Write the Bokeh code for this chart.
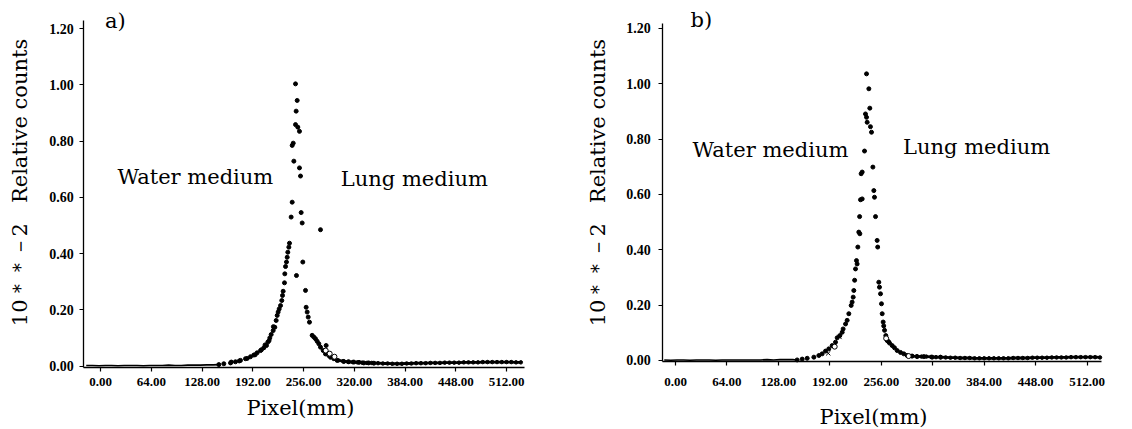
import math
from bokeh.plotting import figure
from bokeh.layouts import row
from bokeh.models import FixedTicker, PrintfTickFormatter, Label
from bokeh.embed import file_html
from bokeh.resources import INLINE

x_ticks = [0, 64, 128, 192, 256, 320, 384, 448, 512]
y_ticks = [0.0, 0.2, 0.4, 0.6, 0.8, 1.0, 1.2]
x_title = "Pixel(mm)"
y_title = "10＊＊－2\u00a0\u00a0\u00a0Relative counts"

# ---------------- panel a ----------------
a_base_x = [-18, -10, -2, 6, 14, 22, 30, 38, 46, 54, 62, 70, 78, 86, 94, 102, 110, 118, 126, 134, 142, 149]
a_base_y = [0.002, 0.002, 0.001, 0.002, 0.002, 0.001, 0.002, 0.002, 0.002, 0.001, 0.002, 0.002, 0.002,
            0.003, 0.002, 0.002, 0.003, 0.003, 0.003, 0.004, 0.004, 0.005]
a_left_x = [149.2, 155.5, 163.9, 165.0, 170.2, 175.0, 176.5, 182.8, 185.0, 189.1, 193.3, 195.0, 197.5,
            201.8, 203.0, 206.0, 207.5, 209.3, 211.0, 212.5, 213.5, 215.2, 217.7, 218.0, 219.8, 221.5,
            222.8, 224.0, 225.3, 227.0, 228.6, 229.5, 230.3, 232.0, 232.4, 233.3, 234.5, 235.4, 236.2,
            237.5, 238.3]
a_left_y = [0.005, 0.008, 0.011, 0.014, 0.015, 0.018, 0.020, 0.026, 0.027, 0.033, 0.039, 0.040, 0.047,
            0.055, 0.058, 0.065, 0.075, 0.073, 0.085, 0.090, 0.100, 0.112, 0.126, 0.140, 0.138, 0.162,
            0.180, 0.192, 0.203, 0.215, 0.233, 0.251, 0.266, 0.296, 0.328, 0.354, 0.370, 0.387, 0.405,
            0.423, 0.437]
a_top_x = [245.9, 248.0, 246.7, 245.9, 248.8, 250.9, 243.0, 241.7, 243.8, 250.9, 252.2, 241.7, 253.0,
           240.4, 254.3, 277.4, 255.1, 247.1]
a_top_y = [1.004, 0.945, 0.907, 0.859, 0.850, 0.835, 0.793, 0.785, 0.729, 0.705, 0.676, 0.583, 0.546,
           0.530, 0.509, 0.485, 0.370, 0.322]
a_right_x = [258.5, 259.3, 260.6, 261.9, 263.5, 266.9, 269.0, 271.1, 273.2, 275.3, 277.4, 284.5, 280.8,
             283.7, 287.9, 290.0, 294.2, 298.4, 306.8, 313.0, 319.4, 326.0, 332.0, 338.0, 344.7]
a_right_y = [0.269, 0.209, 0.192, 0.174, 0.156, 0.109, 0.103, 0.097, 0.088, 0.079, 0.067, 0.073, 0.055,
             0.043, 0.037, 0.031, 0.026, 0.020, 0.016, 0.015, 0.014, 0.013, 0.011, 0.011, 0.010]
a_tail_x = [300, 306, 312, 318, 324, 330, 336, 342, 350, 356, 362, 368, 374, 380, 386, 392, 398, 404,
            410, 416, 422, 428, 434, 440, 446, 452, 458, 464, 470, 476, 482, 488, 494, 500, 506, 512,
            518, 524, 530]
a_tail_y = [0.020, 0.017, 0.015, 0.014, 0.013, 0.012, 0.011, 0.011, 0.010, 0.009, 0.009, 0.008, 0.008,
            0.008, 0.009, 0.009, 0.010, 0.010, 0.010, 0.011, 0.011, 0.011, 0.012, 0.012, 0.012, 0.012,
            0.013, 0.013, 0.013, 0.013, 0.014, 0.014, 0.014, 0.014, 0.014, 0.014, 0.014, 0.013, 0.013]
a_open_x = [284.0, 289.0, 295.0]
a_open_y = [0.055, 0.044, 0.033]

# ---------------- panel b ----------------
b_base_x = [-14, -6, 2, 10, 18, 26, 34, 42, 50, 58, 66, 74, 82, 90, 98, 106, 114, 122, 130, 138, 146, 151]
b_base_y = [0.002, 0.001, 0.002, 0.002, 0.001, 0.002, 0.002, 0.002, 0.001, 0.002, 0.002, 0.002, 0.002,
            0.002, 0.002, 0.002, 0.003, 0.002, 0.003, 0.003, 0.003, 0.002]
b_left_x = [151.3, 157.6, 163.8, 172.1, 178.3, 182.4, 186.6, 190.7, 194.9, 199.0, 201.1, 204.4, 207.3,
            208.5, 211.5, 213.5, 215.6, 218.5, 219.7, 221.0, 221.8, 222.8, 223.9, 225.1, 225.9, 226.8,
            228.0, 229.3, 229.0, 230.1, 230.9, 232.2, 232.2, 235.1]
b_left_y = [0.002, 0.005, 0.008, 0.012, 0.018, 0.024, 0.034, 0.042, 0.054, 0.066, 0.082, 0.090, 0.102,
            0.114, 0.132, 0.145, 0.169, 0.199, 0.211, 0.229, 0.253, 0.290, 0.331, 0.361, 0.349, 0.410,
            0.464, 0.458, 0.520, 0.581, 0.675, 0.584, 0.681, 0.757]
b_top_x = [237.6, 240.5, 241.7, 236.3, 237.6, 238.4, 242.5, 243.8, 245.5, 246.7, 247.5, 248.8, 250.8,
           251.5, 252.9, 253.7, 255.0]
b_top_y = [1.036, 0.982, 0.912, 0.891, 0.879, 0.861, 0.845, 0.825, 0.699, 0.614, 0.590, 0.520, 0.434,
           0.410, 0.283, 0.265, 0.241]
b_right_x = [256.2, 257.1, 258.3, 259.0, 260.0, 261.6, 263.3, 265.0, 266.2, 269.5, 272.4, 275.7, 279.9,
             284.0, 288.2, 294.4, 300.6, 308.9, 319.2, 329.6]
b_right_y = [0.205, 0.169, 0.139, 0.125, 0.109, 0.090, 0.072, 0.068, 0.063, 0.054, 0.046, 0.036, 0.029,
             0.024, 0.018, 0.016, 0.014, 0.014, 0.012, 0.012]
b_tail_x = [288, 294, 300, 306, 312, 318, 324, 330, 336, 342, 348, 354, 360, 366, 372, 378, 384, 390,
            396, 402, 408, 414, 420, 426, 432, 438, 444, 450, 456, 462, 468, 474, 480, 486, 492, 498,
            504, 510, 516, 522, 528]
b_tail_y = [0.018, 0.016, 0.015, 0.014, 0.014, 0.013, 0.012, 0.012, 0.011, 0.010, 0.010, 0.009, 0.009,
            0.009, 0.008, 0.008, 0.008, 0.008, 0.008, 0.008, 0.008, 0.008, 0.009, 0.009, 0.009, 0.009,
            0.010, 0.010, 0.010, 0.010, 0.011, 0.011, 0.011, 0.011, 0.012, 0.012, 0.012, 0.012, 0.012,
            0.012, 0.011]
b_open_x = [198.0, 262.0, 290.0]
b_open_y = [0.050, 0.080, 0.016]
b_cross_x = [190.0, 204.0]
b_cross_y = [0.026, 0.085]

SERIF = "DejaVu Serif"
TICKF = "Liberation Serif"
H = 428


def make_panel(x_range, y_range, x_bounds, y_bounds, width, tick_std_y, tick_std_x):
    p = figure(width=width, height=H, x_range=x_range, y_range=y_range,
               output_backend="svg", toolbar_location=None, tools="")
    p.min_border = 0
    p.min_border_left = 0
    p.min_border_right = 0
    p.min_border_top = 0
    p.min_border_bottom = 0
    p.outline_line_color = None
    p.xgrid.visible = False
    p.ygrid.visible = False
    p.background_fill_color = "white"
    p.border_fill_color = "white"
    for ax in (p.xaxis[0], p.yaxis[0]):
        ax.axis_line_color = "black"
        ax.axis_line_width = 1.3
        ax.major_tick_line_color = "black"
        ax.major_tick_line_width = 1.2
        ax.major_tick_out = 4
        ax.major_tick_in = 0
        ax.minor_tick_line_color = None
        ax.major_label_text_font = TICKF
        ax.major_label_text_font_style = "bold"
        ax.major_label_text_color = "black"
        ax.axis_label = None
    p.xaxis[0].ticker = FixedTicker(ticks=x_ticks)
    p.yaxis[0].ticker = FixedTicker(ticks=y_ticks)
    p.xaxis[0].formatter = PrintfTickFormatter(format="%.2f")
    p.yaxis[0].formatter = PrintfTickFormatter(format="%.2f")
    p.xaxis[0].major_label_text_font_size = "13px"
    p.yaxis[0].major_label_text_font_size = "14px"
    p.xaxis[0].major_label_standoff = tick_std_x
    p.yaxis[0].major_label_standoff = tick_std_y
    p.xaxis[0].fixed_location = y_bounds[0]
    p.yaxis[0].fixed_location = x_bounds[0]
    p.xaxis[0].bounds = x_bounds
    p.yaxis[0].bounds = y_bounds
    return p


def add_dots(p, xs, ys):
    p.scatter(xs, ys, marker="circle", size=4, color="black")


def add_base(p, xs, ys, w):
    p.line(xs, ys, line_width=w, color="black")


def add_text(p, x, y, t, align, angle=0.0):
    p.add_layout(Label(x=x, y=y, text=t, text_font=SERIF, text_font_size="21px", angle=angle,
                       text_align=align, text_baseline="middle", text_color="black"))


# panel a  (page px = 100 + 0.793*x ; py = 365.5 - 281*y)
pa = make_panel((-126.1, 587.6), (-0.2224, 1.3007), (-21, 535), (-0.0053, 1.23), 566, 6, 7)
add_base(pa, a_base_x, a_base_y, 1.6)
add_base(pa, a_tail_x, a_tail_y, 2.8)
for xs, ys in ((a_left_x, a_left_y), (a_top_x, a_top_y), (a_right_x, a_right_y)):
    add_dots(pa, xs, ys)
pa.scatter(a_tail_x, a_tail_y, marker="circle", size=3.5, color="black")
pa.scatter(a_open_x, a_open_y, marker="circle", size=5, fill_color="white", line_color="black", line_width=1)
add_text(pa, 217.8, 0.671, "Water medium", "right")
add_text(pa, 303.0, 0.667, "Lung medium", "left")
add_text(pa, 5.7, 1.226, "a)", "left")
add_text(pa, 252.2, -0.148, x_title, "center")
add_text(pa, -100.9, 0.653, y_title, "center", math.pi / 2)

# panel b  (local px = 109 + 0.804*x ; py = 360 - 276.7*y)
pb = make_panel((-135.6, 567.2), (-0.2458, 1.3011), (-16, 530), (-0.005, 1.217), 565, 8, 12)
add_base(pb, b_base_x, b_base_y, 1.6)
add_base(pb, b_tail_x, b_tail_y, 2.8)
for xs, ys in ((b_left_x, b_left_y), (b_top_x, b_top_y), (b_right_x, b_right_y)):
    add_dots(pb, xs, ys)
pb.scatter(b_tail_x, b_tail_y, marker="circle", size=3.5, color="black")
pb.scatter(b_open_x, b_open_y, marker="circle", size=5, fill_color="white", line_color="black", line_width=1)
pb.scatter(b_cross_x, b_cross_y, marker="x", size=6, line_color="black", line_width=1)
add_text(pb, 215.0, 0.759, "Water medium", "right")
add_text(pb, 283.0, 0.771, "Lung medium", "left")
add_text(pb, 18.7, 1.229, "b)", "left")
add_text(pb, 246.3, -0.206, x_title, "center")
add_text(pb, -95.8, 0.643, y_title, "center", math.pi / 2)

layout = row(pa, pb)
open("out.html", "w").write(file_html(layout, INLINE))
